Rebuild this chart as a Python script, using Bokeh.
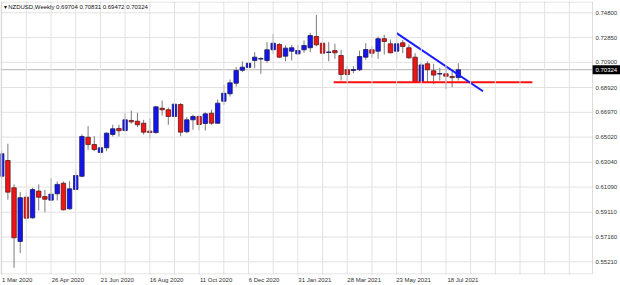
from bokeh.plotting import figure
from bokeh.models import (Range1d, LinearAxis, FixedTicker, PrintfTickFormatter, Label, Span,
                          BoxAnnotation, ColumnDataSource)
from bokeh.embed import file_html
from bokeh.resources import INLINE

# ---- data (weekly NZDUSD candles, week 0 = 1 Mar 2020) ----
opens = [0.6194, 0.6318, 0.6103, 0.5681, 0.6029, 0.5867, 0.6077, 0.6034, 0.6006, 0.6056,
         0.6139, 0.5938, 0.6090, 0.6194, 0.6501, 0.6444, 0.6381, 0.6418, 0.6523, 0.6570,
         0.6554, 0.6633, 0.6627, 0.6611, 0.6549, 0.6538, 0.6729, 0.6717, 0.6664, 0.6759,
         0.6544, 0.6638, 0.6664, 0.6609, 0.6690, 0.6611, 0.6784, 0.6843, 0.6926, 0.7028,
         0.7050, 0.7105, 0.7116, 0.7105, 0.7189, 0.7231, 0.7139, 0.7178, 0.7157, 0.7189,
         0.7205, 0.7294, 0.7241, 0.7168, 0.7183, 0.7144, 0.7032, 0.7026, 0.7032, 0.7131,
         0.7189, 0.7178, 0.7276, 0.7236, 0.7178, 0.7244, 0.7205, 0.7131, 0.6934, 0.7079,
         0.7024, 0.6998, 0.7000, 0.6979, 0.69704]
highs = [0.6390, 0.6450, 0.6130, 0.6069, 0.6069, 0.6103, 0.6130, 0.6087, 0.6179, 0.6153,
         0.6153, 0.6155, 0.6239, 0.6523, 0.6588, 0.6509, 0.6536, 0.6540, 0.6599, 0.6599,
         0.6690, 0.6711, 0.6693, 0.6638, 0.6651, 0.6746, 0.6790, 0.6734, 0.6795, 0.6769,
         0.6659, 0.6680, 0.6672, 0.6698, 0.6717, 0.6798, 0.6913, 0.6955, 0.7052, 0.7097,
         0.7113, 0.7170, 0.7131, 0.7249, 0.7315, 0.7241, 0.7223, 0.7228, 0.7228, 0.7262,
         0.7323, 0.7464, 0.7280, 0.7249, 0.7236, 0.7189, 0.7065, 0.7060, 0.7183, 0.7241,
         0.7215, 0.7294, 0.7307, 0.7270, 0.7294, 0.7268, 0.7231, 0.7162, 0.7087, 0.7099,
         0.7079, 0.7047, 0.7071, 0.7026, 0.70831]
lows = [0.6180, 0.6010, 0.5474, 0.5589, 0.5840, 0.5860, 0.5925, 0.5911, 0.5998, 0.6003,
        0.5925, 0.5930, 0.6082, 0.6186, 0.6402, 0.6391, 0.6375, 0.6391, 0.6507, 0.6507,
        0.6546, 0.6607, 0.6580, 0.6523, 0.6491, 0.6528, 0.6672, 0.6599, 0.6659, 0.6509,
        0.6533, 0.6560, 0.6554, 0.6554, 0.6599, 0.6607, 0.6756, 0.6821, 0.6900, 0.7013,
        0.7008, 0.7044, 0.7000, 0.7087, 0.7157, 0.7123, 0.7099, 0.7105, 0.7150, 0.7165,
        0.7170, 0.7217, 0.7097, 0.7099, 0.7118, 0.6947, 0.6947, 0.7005, 0.7021, 0.7110,
        0.7126, 0.7118, 0.7152, 0.7162, 0.7105, 0.7162, 0.7118, 0.6929, 0.6929, 0.6934,
        0.6921, 0.6947, 0.6882, 0.6895, 0.69472]
closes = [0.6371, 0.6069, 0.5710, 0.6025, 0.5864, 0.6090, 0.6029, 0.6013, 0.6053, 0.6130,
          0.5930, 0.6095, 0.6200, 0.6507, 0.6444, 0.6404, 0.6418, 0.6533, 0.6567, 0.6552,
          0.6638, 0.6622, 0.6599, 0.6541, 0.6538, 0.6740, 0.6717, 0.6664, 0.6761, 0.6541,
          0.6638, 0.6664, 0.6601, 0.6685, 0.6611, 0.6769, 0.6847, 0.6929, 0.7026, 0.7052,
          0.7083, 0.7131, 0.7120, 0.7189, 0.7241, 0.7131, 0.7202, 0.7205, 0.7183, 0.7223,
          0.7301, 0.7228, 0.7162, 0.7172, 0.7165, 0.6995, 0.6995, 0.7034, 0.7136, 0.7191,
          0.7162, 0.7276, 0.7254, 0.7165, 0.7236, 0.7215, 0.7126, 0.6934, 0.7070, 0.7032,
          0.6990, 0.7002, 0.6981, 0.6970, 0.70324]

date_labels = ["1 Mar 2020", "26 Apr 2020", "21 Jun 2020", "16 Aug 2020", "11 Oct 2020",
               "6 Dec 2020", "31 Jan 2021", "28 Mar 2021", "23 May 2021", "18 Jul 2021"]
date_label_weeks = [0, 8, 16, 24, 32, 40, 48, 56, 64, 72]
price_ticks = [0.74800, 0.72850, 0.70900, 0.68920, 0.66970, 0.65020, 0.63040,
               0.61090, 0.59110, 0.57160, 0.55210]
last_price = 0.70324
header = "NZDUSD,Weekly  0.69704 0.70831 0.69472 0.70324"

# drawn objects
trend_x = [64.0, 78.0]
trend_y = [0.7320, 0.6863]
support_x = [53.8, 86.0]
support_y = [0.6933, 0.6933]

# ---- geometry: chart area is 592 px wide, price scale sits in the remaining 28 px ----
FONT = "Liberation Sans"
X0, X1 = -0.195, 95.75            # visible week range of the chart area
Y0, Y1 = 0.5421, 0.75689          # visible price range
PX_PER_WEEK = 592.0 / (X1 - X0)
PX_PER_PRICE = 273.0 / (Y1 - Y0)
XEND = X0 + 620.0 / PX_PER_WEEK   # frame extends under the price scale

p = figure(width=620, height=285, output_backend="svg", toolbar_location=None,
           x_range=Range1d(X0, XEND), y_range=Range1d(Y0, Y1),
           x_axis_location=None, y_axis_location=None,
           min_border_left=0, min_border_right=0, min_border_top=1, min_border_bottom=11,
           background_fill_color="white", border_fill_color="white")
p.outline_line_color = None
p.xgrid.visible = False
p.ygrid.visible = False

weeks = list(range(len(opens)))
up = [c >= o for o, c in zip(opens, closes)]
src = ColumnDataSource(dict(
    x=weeks, o=opens, h=highs, l=lows, c=closes,
    top=[max(o, c) for o, c in zip(opens, closes)],
    bottom=[min(o, c) for o, c in zip(opens, closes)],
    fill=["#1414f0" if u else "#f01414" for u in up],
    edge=["#1a1a5a" if u else "#5a1a1a" for u in up],
))

# grid lines (only inside the chart area)
grid_weeks = list(range(0, 96, 4))
for gw in grid_weeks:
    p.add_layout(Span(location=gw, dimension="height", line_color="#e2e2e2", line_width=1))
p.segment(x0=[X0] * len(price_ticks), y0=price_ticks, x1=[X1] * len(price_ticks), y1=price_ticks,
          line_color="#e2e2e2", line_width=1)
p.segment(x0=[X0], y0=[last_price], x1=[X1], y1=[last_price], line_color="#b4b4b4", line_width=1)

# candles
p.segment(x0="x", y0="l", x1="x", y1="h", source=src, line_color="#7a7a7a", line_width=1)
p.vbar(x="x", width=0.72, top="top", bottom="bottom", source=src,
       fill_color="fill", line_color="edge", line_width=0.8)

# drawn lines
p.line(support_x, support_y, line_color="#ff1010", line_width=2)
p.line(trend_x, trend_y, line_color="#1a1aff", line_width=2)

# chart-area border
p.add_layout(BoxAnnotation(left=X0 + 0.5 / PX_PER_WEEK, right=X1,
                           bottom=Y0 + 0.5 / PX_PER_PRICE, top=Y1 - 0.5 / PX_PER_PRICE,
                           fill_color=None, line_color="#8a8a8a", line_width=1, level="overlay"))

# last price tag background
tag_h = 4.5 / PX_PER_PRICE
p.quad(left=[X1], right=[XEND], bottom=[last_price - tag_h], top=[last_price + tag_h],
       fill_color="black", line_color=None)

# right price scale (fixed at the right edge of the chart area)
yax = LinearAxis(ticker=FixedTicker(ticks=price_ticks),
                 formatter=PrintfTickFormatter(format="%.5f"), fixed_location=X1)
pax = LinearAxis(ticker=FixedTicker(ticks=[last_price]),
                 formatter=PrintfTickFormatter(format="%.5f"), fixed_location=X1)
for ax, col in ((yax, "#333333"), (pax, "white")):
    ax.axis_line_color = None
    ax.major_tick_line_color = None
    ax.minor_tick_line_color = None
    ax.major_tick_out = 0
    ax.major_tick_in = 0
    ax.major_label_standoff = 3
    ax.major_label_text_font = FONT
    ax.major_label_text_font_size = "6px"
    ax.major_label_text_color = col
    p.add_layout(ax, "right")

# bottom axis: labels left-aligned to their week (shift centre by half label width)
char_px = 2.9
label_ticks = [w + (len(t) * char_px / 2.0 + 1.0) / PX_PER_WEEK
               for w, t in zip(date_label_weeks, date_labels)]
xax = LinearAxis(ticker=FixedTicker(ticks=label_ticks),
                 major_label_overrides={float(k): t for k, t in zip(label_ticks, date_labels)})
xax.axis_line_color = None
xax.major_tick_line_color = None
xax.minor_tick_line_color = None
xax.major_tick_out = 0
xax.major_label_standoff = 2
xax.major_label_text_font = FONT
xax.major_label_text_font_size = "6px"
xax.major_label_text_color = "#333333"
p.add_layout(xax, "below")

# header
p.add_layout(Label(x=3, y=268, x_units="screen", y_units="screen", text="\u25BE " + header,
                   text_font=FONT, text_font_size="6px", text_color="#111111",
                   text_baseline="middle"))

open("out.html", "w").write(file_html(p, INLINE))
